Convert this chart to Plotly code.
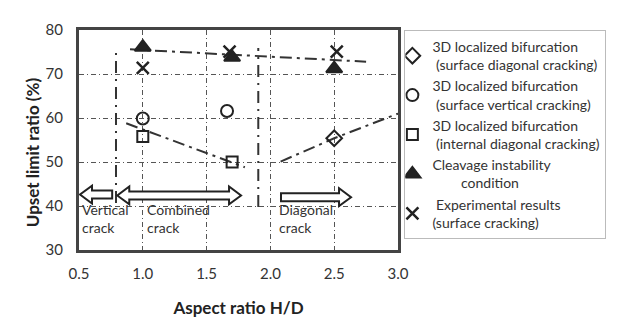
import plotly.graph_objects as go

# ---------------- data ----------------
diag_x = [2.5]
diag_y = [55.4]
vert_x = [1.0, 1.66]
vert_y = [59.9, 61.6]
intdiag_x = [1.0, 1.7]
intdiag_y = [55.8, 50.0]
cleav_x = [1.0, 1.7, 2.5]
cleav_y = [76.1, 73.8, 71.2]
exp_x = [1.0, 1.68, 2.52]
exp_y = [71.4, 75.1, 75.1]

# trend lines (dash-dot)
upper_x = [0.9, 2.75]
upper_y = [75.6, 72.8]
lowleft_x = [0.87, 1.7, 1.8]
lowleft_y = [58.8, 50.0, 48.8]
lowright_x = [2.08, 2.5, 3.0]
lowright_y = [50.1, 55.4, 61.0]

# boundaries between cracking regimes
bound_x = [0.79, 1.905]
bound_y0 = [40.7, 39.8]
bound_y1 = [76.1, 75.9]

# region arrows: (x start, x end, y, kind)
arrow_x0 = [0.76, 0.80, 2.083]
arrow_x1 = [0.508, 1.770, 2.632]
arrow_y = [42.6, 42.4, 42.0]
arrow_kind = ["single", "double", "single"]

region_x = [0.515, 1.025, 2.06]
region_text = ["Vertical<br>crack", "Combined<br>crack", "Diagonal<br>crack"]

x_ticks = [0.5, 1.0, 1.5, 2.0, 2.5, 3.0]
y_ticks = [30, 40, 50, 60, 70, 80]

names = [
    "3D localized bifurcation<br> (surface diagonal cracking)",
    "3D localized bifurcation<br> (surface vertical cracking)",
    "3D localized bifurcation<br> (internal diagonal cracking)",
    "Cleavage instability<br>&nbsp;&nbsp;&nbsp;&nbsp;&nbsp;&nbsp;&nbsp;&nbsp;condition",
    "&nbsp;Experimental results<br>(surface cracking)",
]

# ---------------- figure ----------------
INK = "#222222"
FONT = "Lato"
fig = go.Figure()

dashdot = "12px,5px,3px,5px"
for lx, ly in [(upper_x, upper_y), (lowleft_x, lowleft_y), (lowright_x, lowright_y)]:
    fig.add_trace(go.Scatter(x=lx, y=ly, mode="lines", showlegend=False,
                             line=dict(color="#333333", width=2, dash=dashdot),
                             hoverinfo="skip"))
for bx, b0, b1 in zip(bound_x, bound_y0, bound_y1):
    fig.add_trace(go.Scatter(x=[bx, bx], y=[b0, b1], mode="lines", showlegend=False,
                             line=dict(color="#333333", width=2, dash="12px,6px,2px,6px"),
                             hoverinfo="skip"))

series = [
    (diag_x, diag_y, "diamond-open", 12),
    (vert_x, vert_y, "circle-open", 12),
    (intdiag_x, intdiag_y, "square-open", 11),
    (cleav_x, cleav_y, "triangle-up", 14),
    (exp_x, exp_y, "x-thin-open", 12),
]
for (sx, sy, sym, sz), nm in zip(series, names):
    fig.add_trace(go.Scatter(
        x=sx, y=sy, mode="markers", name=nm,
        marker=dict(symbol=sym, size=sz, color=INK,
                    line=dict(color=INK, width=2.5 if "x" in sym else 2)),
    ))

# arrows as hollow path shapes (data units)
px_x = 2.5 / 319.0
px_y = 50.0 / 234.0
for x0, x1, yc, kind in zip(arrow_x0, arrow_x1, arrow_y, arrow_kind):
    hl = 12 * px_x
    bh = 4.3 * px_y
    hh = 9.5 * px_y
    d = 1 if x1 > x0 else -1
    if kind == "single":
        pts = [(x0, yc - bh), (x1 - d * hl, yc - bh), (x1 - d * hl, yc - hh), (x1, yc),
               (x1 - d * hl, yc + hh), (x1 - d * hl, yc + bh), (x0, yc + bh)]
    else:
        pts = [(x0, yc), (x0 + d * hl, yc - hh), (x0 + d * hl, yc - bh),
               (x1 - d * hl, yc - bh), (x1 - d * hl, yc - hh), (x1, yc),
               (x1 - d * hl, yc + hh), (x1 - d * hl, yc + bh),
               (x0 + d * hl, yc + bh), (x0 + d * hl, yc + hh)]
    path = "M " + " L ".join(f"{px},{py}" for px, py in pts) + " Z"
    fig.add_shape(type="path", path=path, xref="x", yref="y",
                  line=dict(color=INK, width=2), fillcolor="white")

for rx, txt in zip(region_x, region_text):
    fig.add_annotation(x=rx, y=41.4, text=txt, showarrow=False, xanchor="left",
                       yanchor="top", align="left",
                       font=dict(family=FONT, size=14, color="#333333"),
                       borderpad=0)

# y-axis title (placed as in the reference, slightly below the axis centre)
fig.add_annotation(xref="paper", yref="paper", x=-0.147, y=0.445, text="<b>Upset limit ratio (%)</b>",
                   textangle=-90, showarrow=False, xanchor="center", yanchor="middle",
                   font=dict(family=FONT, size=17, color="#222222"))

fig.update_layout(
    width=640, height=320,
    margin=dict(l=71, r=250, t=14, b=72),
    plot_bgcolor="white", paper_bgcolor="white",
    font=dict(family=FONT, color="#333333"),
    legend=dict(x=1.02, y=1.0, xanchor="left", yanchor="top",
                bordercolor="#bbbbbb", borderwidth=1,
                font=dict(family=FONT, size=14, color="#333333"),
                indentation=-13, tracegroupgap=0,
                entrywidth=200, entrywidthmode="pixels"),
    xaxis=dict(range=[0.5, 3.0], tickvals=x_ticks, ticktext=[f"{v:.1f}" for v in x_ticks],
               showgrid=True, gridcolor="#555555", griddash="5px,3px,1px,3px", gridwidth=1,
               showline=True, linecolor="#444444", linewidth=3, mirror=True,
               zeroline=False, ticks="", ticklabelstandoff=8,
               tickfont=dict(family=FONT, size=15, color="#333333"),
               title=dict(text="<b>Aspect ratio H/D</b>", standoff=22,
                          font=dict(family=FONT, size=17, color="#222222"))),
    yaxis=dict(range=[30, 80], tickvals=y_ticks,
               showgrid=True, gridcolor="#555555", griddash="5px,3px,1px,3px", gridwidth=1,
               showline=True, linecolor="#444444", linewidth=3, mirror=True,
               zeroline=False, ticks="", ticklabelstandoff=10,
               tickfont=dict(family=FONT, size=15, color="#333333")),
)

fig.write_html("out.html")
